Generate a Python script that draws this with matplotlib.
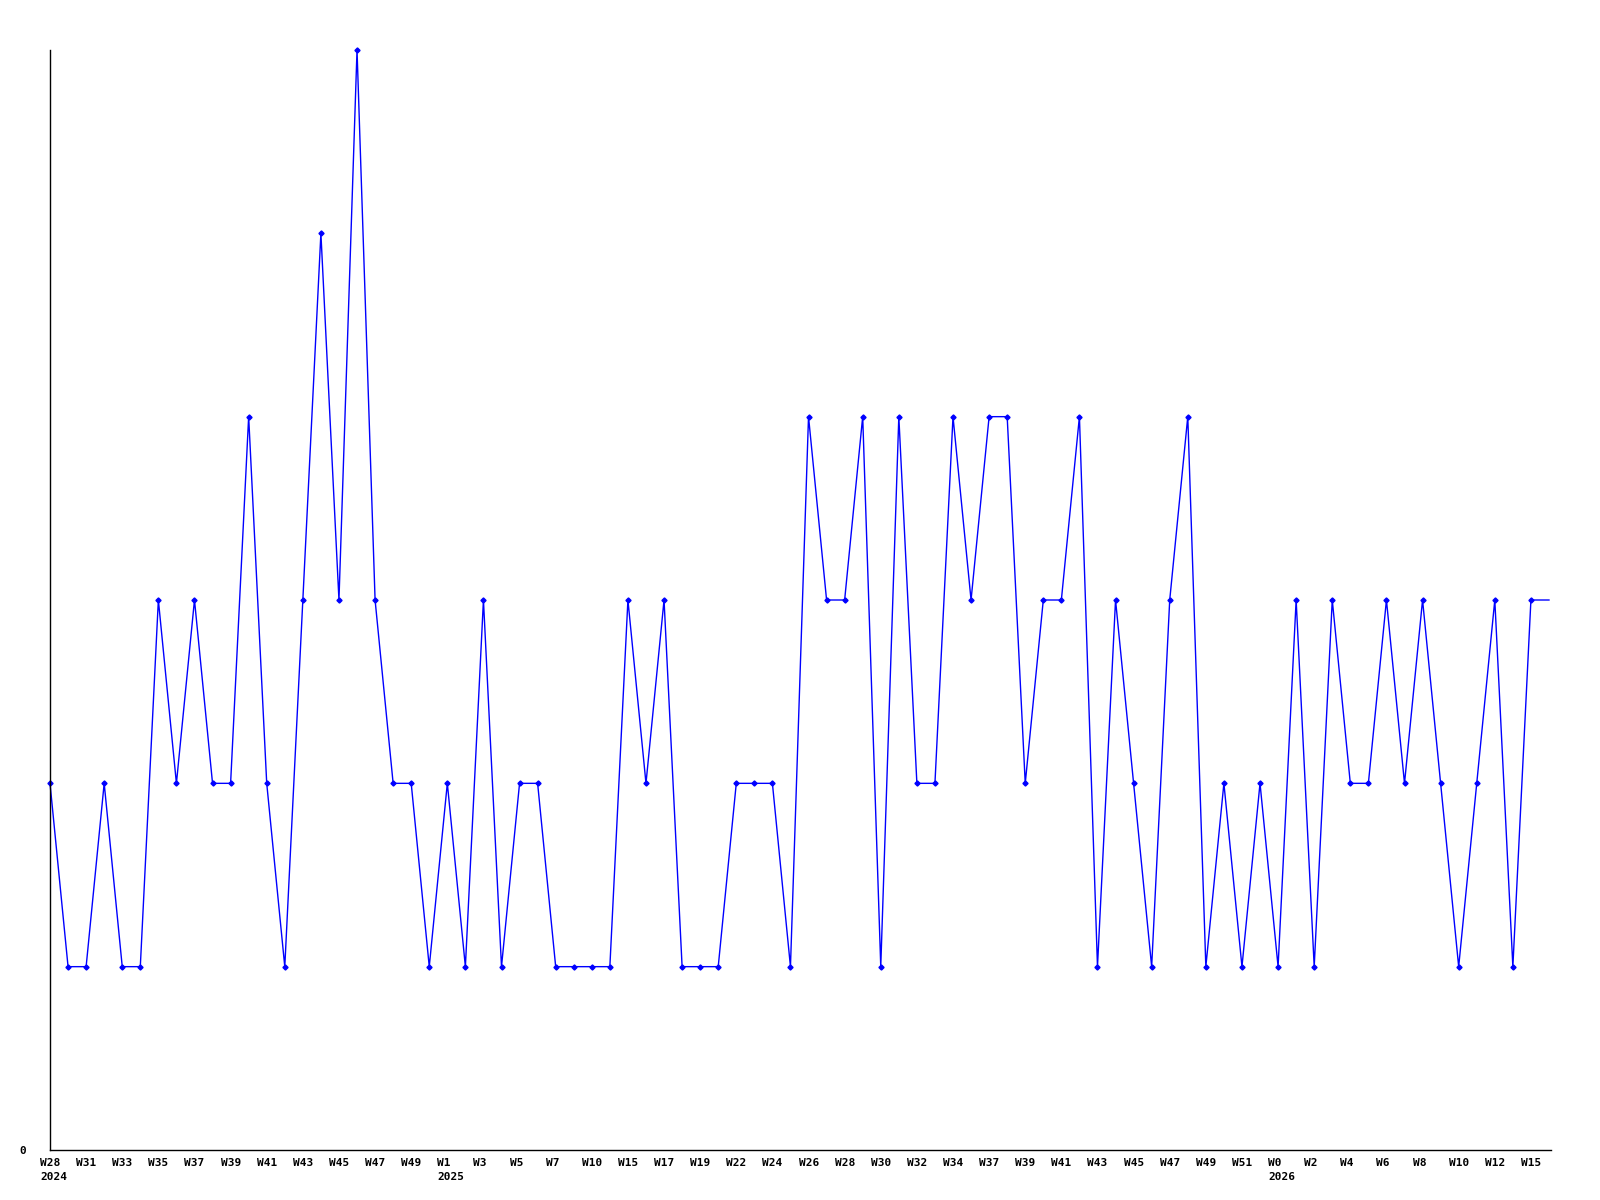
import matplotlib.pyplot as plt

# weekly counts, one point per sample
counts = [2, 1, 1, 2, 1, 1, 3, 2, 3, 2, 2, 4, 2, 1, 3, 5, 3, 6, 3, 2,
          2, 1, 2, 1, 3, 1, 2, 2, 1, 1, 1, 1, 3, 2, 3, 1, 1, 1, 2, 2,
          2, 1, 4, 3, 3, 4, 1, 4, 2, 2, 4, 3, 4, 4, 2, 3, 3, 4, 1, 3,
          2, 1, 3, 4, 1, 2, 1, 2, 1, 3, 1, 3, 2, 2, 3, 2, 3, 2, 1, 2,
          3, 1, 3, 3]

# labels on every second point
week_labels = ["W28", "W31", "W33", "W35", "W37", "W39", "W41", "W43", "W45",
               "W47", "W49", "W1", "W3", "W5", "W7", "W10", "W15", "W17",
               "W19", "W22", "W24", "W26", "W28", "W30", "W32", "W34", "W37",
               "W39", "W41", "W43", "W45", "W47", "W49", "W51", "W0", "W2",
               "W4", "W6", "W8", "W10", "W12", "W15"]
# year printed under the label at these label indexes
year_pos = [0, 11, 34]
year_text = ["2024", "2025", "2026"]

fig = plt.figure(figsize=(16, 12), dpi=100)
ax = fig.add_axes([50 / 1600, 50 / 1200, 1501 / 1600, 1100 / 1200])

x = list(range(len(counts)))
ax.plot(x, counts, color="#0000ff", lw=1.0, marker="D", ms=2.6,
        markevery=list(range(len(counts) - 1)), clip_on=False)
ax.set_xlim(0, 1501 / 18.06)
ax.set_ylim(0, 6)

for s in ["top", "right"]:
    ax.spines[s].set_visible(False)
for s in ["left", "bottom"]:
    ax.spines[s].set_linewidth(1.0)
    ax.spines[s].set_color("black")

ax.set_xticks([])
lab_font = dict(fontsize=8, fontweight="bold", family="DejaVu Sans Mono")
for k, lab in enumerate(week_labels):
    ax.annotate(lab, (2 * k, 0), xycoords=("data", "axes fraction"),
                xytext=(-7.2, -6), textcoords="offset points",
                ha="left", va="top", **lab_font)
for k, yr in zip(year_pos, year_text):
    ax.annotate(yr, (2 * k, 0), xycoords=("data", "axes fraction"),
                xytext=(-7.2, -15.5), textcoords="offset points",
                ha="left", va="top", **lab_font)

ax.set_yticks([0])
ax.set_yticklabels(["0"], **lab_font)
ax.tick_params(axis="y", length=0, pad=17)

fig.savefig("out.png", dpi=100)
